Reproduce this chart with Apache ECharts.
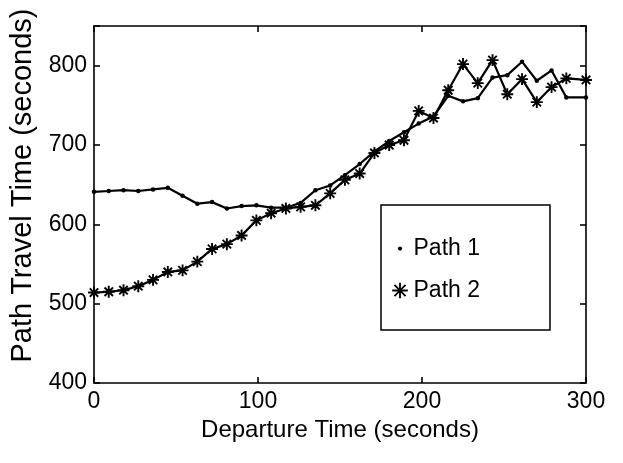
<!DOCTYPE html>
<html>
<head>
<meta charset="utf-8">
<script src="https://cdn.jsdelivr.net/npm/echarts@6/dist/echarts.min.js"></script>
<style>
html,body{margin:0;padding:0;background:#fff;}
#chart{width:623px;height:463px;}
</style>
</head>
<body>
<div id="chart"></div>
<script>
// Departure times (seconds)
const departureTimes = [0, 9, 18, 27, 36, 45, 54, 63, 72, 81, 90, 99, 108, 117, 126, 135, 144, 153, 162, 171, 180, 189, 198, 207, 216, 225, 234, 243, 252, 261, 270, 279, 288, 300];
// Path travel times (seconds)
const path1 = [641, 642, 643, 642, 644, 646, 636, 626, 628, 620, 623, 624, 621, 621, 627, 643, 649, 662, 676, 692, 705, 716, 727, 736, 762, 755, 759, 785, 788, 805, 781, 794, 760, 760];
const path2 = [514, 515, 517, 522, 530, 540, 542, 553, 569, 575, 586, 605, 614, 620, 622, 624, 639, 656, 664, 690, 700, 706, 743, 734, 769, 802, 778, 807, 764, 783, 754, 773, 784, 782];
const seriesNames = ['Path 1', 'Path 2'];
const xTicks = [0, 100, 200, 300];
const yTicks = [400, 500, 600, 700, 800];

const FONT = 'Liberation Sans, Arial, Helvetica, sans-serif';
const STAR = 'path://M0,0M24,24M12,1L12,23M1,12L23,12M4.2,4.2L19.8,19.8M19.8,4.2L4.2,19.8';
const DOT = 'path://M0,0M24,24M9,12A3,3,0,1,1,15,12A3,3,0,1,1,9,12Z';

const pairs = (ys) => departureTimes.map((x, i) => [x, ys[i]]);

const chart = echarts.init(document.getElementById('chart'), null, {renderer: 'canvas'});

const axisCommon = {
  axisLine: {show: true, onZero: false, lineStyle: {color: '#000', width: 1.6}},
  axisTick: {show: true, inside: true, length: 6, lineStyle: {color: '#000', width: 1.6}},
  splitLine: {show: false}
};

chart.setOption({
  animation: false,
  backgroundColor: '#fff',
  textStyle: {fontFamily: FONT, color: '#000'},
  grid: {left: 94, right: 37, top: 26, bottom: 80, containLabel: false},
  xAxis: [
    Object.assign({
      type: 'value', position: 'bottom',
      min: xTicks[0], max: xTicks[xTicks.length - 1], interval: 100,
      name: 'Departure Time (seconds)', nameLocation: 'middle', nameGap: 31,
      nameTextStyle: {fontSize: 24, color: '#000', fontFamily: FONT},
      axisLabel: {fontSize: 23, color: '#000', margin: 7, fontFamily: FONT}
    }, axisCommon),
    Object.assign({
      type: 'value', position: 'top',
      min: xTicks[0], max: xTicks[xTicks.length - 1], interval: 100,
      axisLabel: {show: false}
    }, axisCommon)
  ],
  yAxis: [
    Object.assign({
      type: 'value', position: 'left',
      min: yTicks[0], max: 850, interval: 100,
      name: 'Path Travel Time (seconds)', nameLocation: 'middle', nameGap: 56, nameRotate: 90,
      nameTextStyle: {fontSize: 29, color: '#000', fontFamily: FONT, padding: [0, 0, 0, 38]},
      axisLabel: {fontSize: 23, color: '#000', margin: 7, fontFamily: FONT,
        formatter: (v) => (yTicks.indexOf(v) >= 0 ? String(v) : '')}
    }, axisCommon),
    Object.assign({
      type: 'value', position: 'right',
      min: yTicks[0], max: 850, interval: 100,
      axisLabel: {show: false}
    }, axisCommon)
  ],
  legend: {
    orient: 'vertical',
    left: 381, top: 205,
    padding: [32, 70, 28, 8],
    itemGap: 19,
    itemWidth: 17, itemHeight: 17,
    borderColor: '#000', borderWidth: 1.5,
    textStyle: {fontSize: 23, color: '#000', fontFamily: FONT},
    data: [
      {name: seriesNames[0], icon: DOT, itemStyle: {color: '#000', borderWidth: 0}},
      {name: seriesNames[1], icon: STAR, itemStyle: {color: 'none', borderColor: '#000', borderWidth: 1.8}}
    ]
  },
  series: [
    {
      name: seriesNames[0], type: 'line', data: pairs(path1),
      symbol: 'circle', symbolSize: 4.5, showSymbol: true, showAllSymbol: true,
      itemStyle: {color: '#000'},
      lineStyle: {color: '#000', width: 2.2},
      z: 3
    },
    {
      name: seriesNames[1], type: 'line', data: pairs(path2),
      symbol: STAR, symbolSize: 13, showSymbol: true, showAllSymbol: true,
      itemStyle: {color: 'none', borderColor: '#000', borderWidth: 1.9},
      lineStyle: {color: '#000', width: 2.2},
      z: 2
    }
  ]
});
</script>
</body>
</html>
